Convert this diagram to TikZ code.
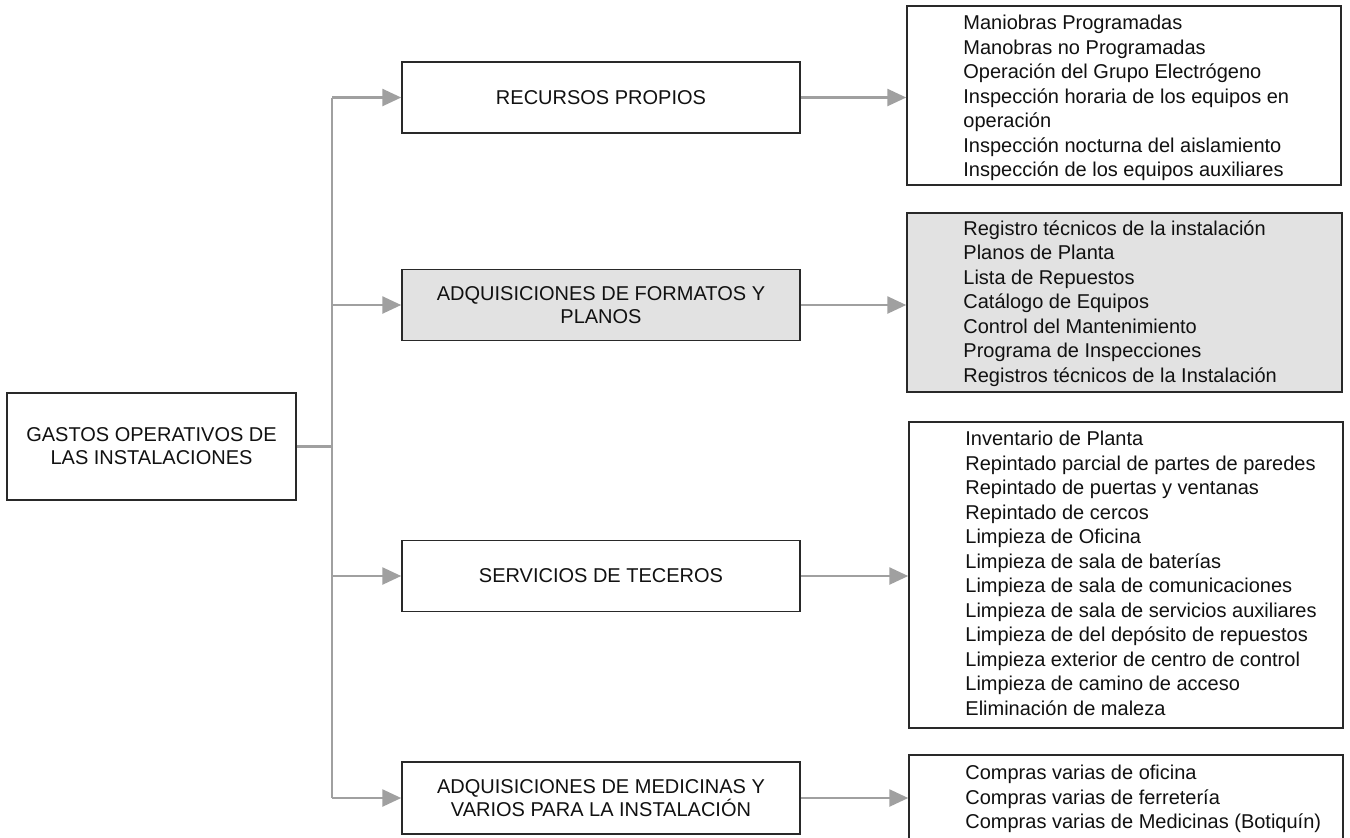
\documentclass[tikz,border=0pt]{standalone}
\usepackage{fontspec}
\setmainfont{Liberation Sans}
\usetikzlibrary{arrows.meta}
\definecolor{linegray}{HTML}{A0A0A0}
\definecolor{boxfill}{HTML}{E2E2E2}
\definecolor{ink}{HTML}{111111}
\begin{document}
\begin{tikzpicture}[x=0.5pt,y=-0.5pt,
  box/.style={draw=ink!90, line width=0.75pt, inner sep=0pt, align=center, text=ink,
              font=\fontsize{10}{11.5}\selectfont},
  midbox/.style={box, minimum width=199pt, minimum height=35.5pt},
  listbox/.style={draw=ink!90, line width=0.75pt, inner sep=0pt},
  listtext/.style={anchor=north west, inner sep=0pt, align=left, text=ink,
              font=\fontsize{10}{12.25}\selectfont},
  conn/.style={draw=linegray, line width=1.3pt},
  arr/.style={conn, -{Triangle[length=9.5pt,width=8.5pt,color=linegray]}}
]
\useasboundingbox (0,0) rectangle (1350,837);
\clip (0,0) rectangle (1350,837);
\fill[white] (0,0) rectangle (1350,837);

% main box
\node[box, minimum width=144.5pt, minimum height=53.5pt] (main) at (151.5,446.5)
  {GASTOS OPERATIVOS DE\\LAS INSTALACIONES};

% middle boxes
\node[midbox] (rp) at (601,97.5) {RECURSOS PROPIOS};
\node[midbox, fill=boxfill] (fp) at (601,305) {ADQUISICIONES DE FORMATOS Y\\PLANOS};
\node[midbox] (st) at (601,576) {SERVICIOS DE TECEROS};
\node[midbox, minimum height=36pt] (me) at (601,798) {ADQUISICIONES DE MEDICINAS Y\\VARIOS PARA LA INSTALACIÓN};

% list boxes
\node[listbox, minimum width=217pt, minimum height=89.5pt] (l1) at (1124,95.5) {};
\node[listbox, fill=boxfill, minimum width=217.5pt, minimum height=89.5pt] (l2) at (1124.5,302.5) {};
\node[listbox, minimum width=217pt, minimum height=153pt] (l3) at (1126,575) {};
\node[listbox, minimum width=217pt, minimum height=47pt] (l4) at (1126,802) {};

% list texts
\node[listtext] (t1) at (963,15) {Maniobras Programadas\\Manobras no Programadas\\Operación del Grupo Electrógeno\\Inspección horaria de los equipos en\\operación\\Inspección nocturna del aislamiento\\Inspección de los equipos auxiliares};
\node[listtext] (t2) at (963,220) {Registro técnicos de la instalación\\Planos de Planta\\Lista de Repuestos\\Catálogo de Equipos\\Control del Mantenimiento\\Programa de Inspecciones\\Registros técnicos de la Instalación};
\node[listtext] (t3) at (965,431) {Inventario de Planta\\Repintado parcial de partes de paredes\\Repintado de puertas y ventanas\\Repintado de cercos\\Limpieza de Oficina\\Limpieza de sala de baterías\\Limpieza de sala de comunicaciones\\Limpieza de sala de servicios auxiliares\\Limpieza de del depósito de repuestos\\Limpieza exterior de centro de control\\Limpieza de camino de acceso\\Eliminación de maleza};
\node[listtext] (t4) at (965,765) {Compras varias de oficina\\Compras varias de ferretería\\Compras varias de Medicinas (Botiquín)};

% connectors
\coordinate (tx) at (332,0);
\draw[conn] (main.east) -- (main.east -| tx);
\draw[conn] (rp.west -| tx) -- (me.west -| tx);
\draw[arr] (rp.west -| tx) -- (rp.west);
\draw[arr] (fp.west -| tx) -- (fp.west);
\draw[arr] (st.west -| tx) -- (st.west);
\draw[arr] (me.west -| tx) -- (me.west);
\draw[arr] (rp.east) -- (rp.east -| l1.west);
\draw[arr] (fp.east) -- (fp.east -| l2.west);
\draw[arr] (st.east) -- (st.east -| l3.west);
\draw[arr] (me.east) -- (me.east -| l4.west);
\end{tikzpicture}
\end{document}
